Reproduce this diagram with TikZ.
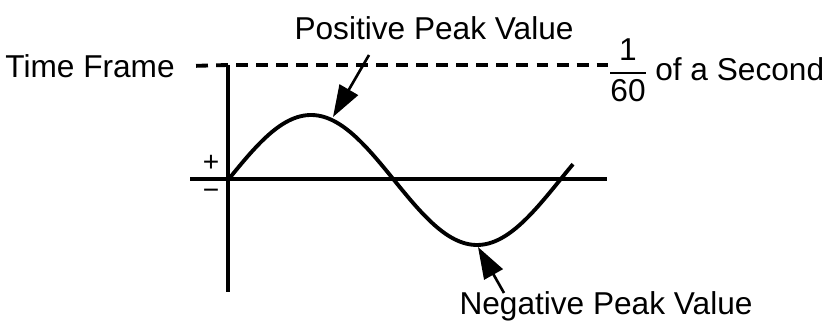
\documentclass[tikz,border=0pt]{standalone}
\usepackage{amsmath}
\usepackage{fontspec}
\setmainfont{Liberation Sans}
\usetikzlibrary{positioning,arrows.meta}

\tikzset{
  lbl/.style={inner sep=0pt,font=\fontsize{18pt}{21pt}\selectfont},
  sgn/.style={inner sep=0pt,font=\fontsize{16pt}{18pt}\selectfont},
  axisline/.style={line width=2pt},
  dashline/.style={line width=2.2pt,dash pattern=on 6.8pt off 4.6pt},
  wave/.style={line width=2.2pt},
  peakarrow/.style={line width=1.5pt,-{Triangle[length=18pt,width=12pt]}}
}

\begin{document}
\begin{tikzpicture}[x=0.02cm,y=-0.02cm]
  \useasboundingbox (0,0) rectangle (825,323);

  % axes
  \coordinate (corner) at (228,65);
  \coordinate (ybot) at (228,292);
  \coordinate (xl) at (190,179);
  \coordinate (xr) at (607,179);
  \draw[axisline] (corner) -- (ybot);
  \draw[axisline] (xl) -- (xr);
  \node[sgn] (plus) at (211,163) {+};
  \node[sgn] (minus) at (211,194) {−};

  % time frame
  \node[lbl,anchor=east] (tf) at (175,66) {Time Frame};
  \node[lbl] (frac) at (628,70) {$\dfrac{\mbox{1}}{\mbox{60}}$};
  \node[lbl,anchor=west] (sec) at (655,69) {of a Second};
  \draw[dashline] (corner) -- ([xshift=0.3cm]tf.east);
  \draw[dashline,dash phase=6.8pt] (corner) -- (frac.west |- corner);

  % one cycle
  \draw[wave] plot[domain=228:573,samples=120,smooth]
    (\x,{180-65*sin((\x-228)/332*360)});

  % peaks
  \coordinate (ppk) at (333,117);
  \coordinate (npk) at (478,247);
  \node[lbl] (pos) at (434,28) {Positive Peak Value};
  \node[lbl,anchor=base] (neg) at (606,315) {Negative Peak Value};
  \draw[peakarrow] (369,55) -- (ppk);
  \draw[peakarrow] (504,293) -- (npk);
\end{tikzpicture}
\end{document}
